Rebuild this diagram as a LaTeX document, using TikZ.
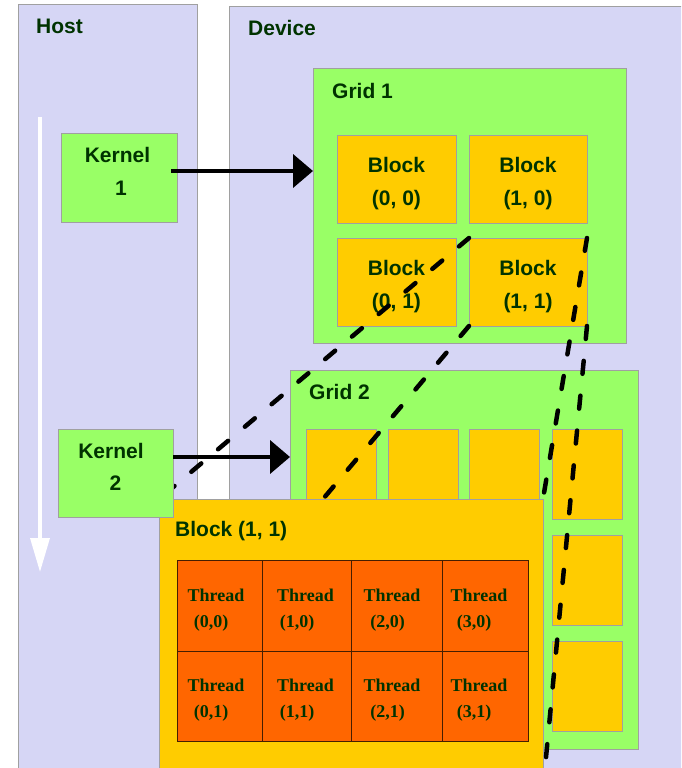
\documentclass[tikz,border=0pt]{standalone}
\usepackage{fontspec}
\setmainfont{Liberation Serif}
\setsansfont{Liberation Sans}
\usetikzlibrary{arrows.meta}
\definecolor{panel}{RGB}{214,214,245}
\definecolor{kgreen}{RGB}{153,255,102}
\definecolor{byellow}{RGB}{255,204,0}
\definecolor{torange}{RGB}{255,102,0}
\definecolor{edgegray}{RGB}{160,160,160}
\definecolor{txt}{RGB}{0,51,0}
\definecolor{celledge}{RGB}{70,30,0}
\begin{document}
\begin{tikzpicture}[x=1pt,y=-1pt,
  box/.style={draw=edgegray,line width=1pt,anchor=north west,inner sep=0,outer sep=0},
  panelbox/.style={box,fill=panel},
  greenbox/.style={box,fill=kgreen},
  yellowbox/.style={box,fill=byellow},
  cellbox/.style={draw=celledge,line width=0.9pt,fill=torange,anchor=north west,inner sep=0,outer sep=0},
  lbl/.style={text=txt,font=\sffamily\bfseries\fontsize{21}{25}\selectfont,anchor=base west,inner sep=0},
  ctr/.style={text=txt,font=\sffamily\bfseries\fontsize{21}{25}\selectfont,anchor=base,inner sep=0},
  thr/.style={text=txt,font=\rmfamily\bfseries\fontsize{18}{20}\selectfont,anchor=base,inner sep=0},
  callarrow/.style={line width=4pt,-{Triangle[length=20pt,width=33pt]}},
  zoomline/.style={line width=4.5pt,line cap=round,dash pattern=on 13pt off 22pt}
]
\clip (0,0) rectangle (681,768);
\fill[white] (0,0) rectangle (681,768);

% panels
\node[panelbox,minimum width=179,minimum height=780] (host) at (18,5) {};
\node[panelbox,minimum width=480,minimum height=780] (device) at (229,7) {};
\node[lbl] (hostlbl) at (36,34) {Host};
\node[lbl] (devlbl) at (248,36) {Device};

% time arrow
\coordinate (tstart) at (40,117);
\coordinate (tend) at (40,572);
\draw[white,line width=3.5pt,-{Triangle[length=34pt,width=19pt]}] (tstart) -- (tend);

% Grid 1
\node[greenbox,minimum width=313,minimum height=274] (grid1) at (313,69) {};
\node[lbl] (g1lbl) at (332,98) {Grid 1};
\node[yellowbox,minimum width=119,minimum height=88] (b00) at (337,135) {};
\node[yellowbox,minimum width=118,minimum height=88] (b10) at (469,135) {};
\node[yellowbox,minimum width=119,minimum height=88] (b01) at (337,238) {};
\node[yellowbox,minimum width=118,minimum height=88] (b11) at (469,238) {};
\node[ctr] at (396.5,172) {Block};
\node[ctr] at (396.5,205) {(0, 0)};
\node[ctr] at (528,172) {Block};
\node[ctr] at (528,205) {(1, 0)};
\node[ctr] at (396.5,275) {Block};
\node[ctr] at (396.5,308) {(0, 1)};
\node[ctr] at (528,275) {Block};
\node[ctr] at (528,308) {(1, 1)};

% Grid 2
\node[greenbox,minimum width=348,minimum height=379] (grid2) at (290,370) {};
\node[lbl] (g2lbl) at (309,399) {Grid 2};
\foreach \cx/\i in {306/0,388/1,469/2,552/3}{
  \foreach \cy/\j in {429/0,535/1,641/2}{
    \node[yellowbox,minimum width=70,minimum height=90] (s\i\j) at (\cx,\cy) {};
  }
}

% expanded block
\node[yellowbox,minimum width=384,minimum height=290] (big) at (159,499) {};
\node[lbl] (biglbl) at (175,536) {Block (1, 1)};
\foreach \lx/\w/\i in {177/85/0,262/89/1,351/91/2,442/86/3}{
  \foreach \ty/\h/\j in {560/91/0,651/90/1}{
    \node[cellbox,minimum width=\w,minimum height=\h] (t\i\j) at (\lx,\ty) {};
  }
}
\foreach \tx/\cxx/\i in {216/211/0,305.5/297/1,392/387.5/2,479/474/3}{
  \node[thr] at (\tx,601) {Thread};
  \node[thr] at (\cxx,627) {(\i,0)};
  \node[thr] at (\tx,691) {Thread};
  \node[thr] at (\cxx,717) {(\i,1)};
}

% zoom lines
\coordinate (z2end) at (323,499);
\draw[zoomline] (b11.north west) -- (big.north west);
\draw[zoomline] (b11.south west) -- (z2end);
\draw[zoomline] (b11.north east) -- (big.north east);
\draw[zoomline] (b11.south east) -- (big.south east);

% kernels
\node[greenbox,minimum width=116,minimum height=89] (k1) at (61,133) {};
\node[ctr] at (117.5,162) {Kernel};
\node[ctr] at (121,195) {1};
\node[greenbox,minimum width=115,minimum height=88] (k2) at (58,429) {};
\node[ctr] at (111,458) {Kernel};
\node[ctr] at (115.5,490) {2};

% launch arrows
\coordinate (a1s) at ([shift={(-6,-6.5)}]k1.east);
\coordinate (a2s) at ([shift={(0,-16)}]k2.east);
\draw[callarrow] (a1s) -- (grid1.west |- a1s);
\draw[callarrow] (a2s) -- (grid2.west |- a2s);
\end{tikzpicture}
\end{document}
